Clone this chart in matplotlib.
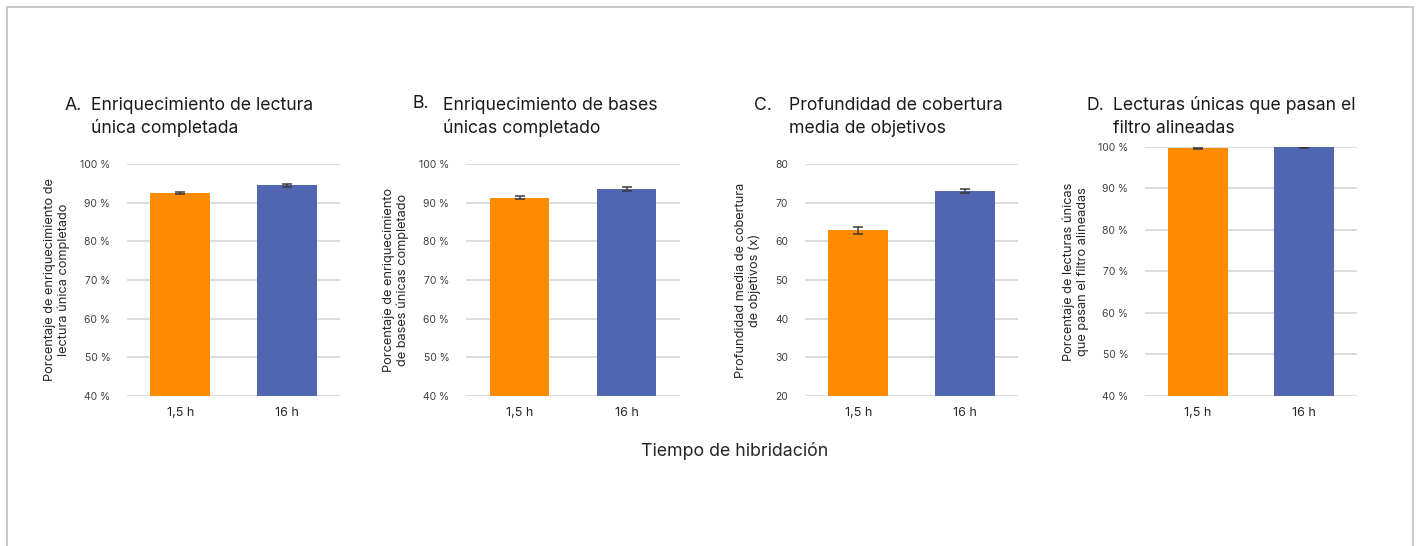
import matplotlib.pyplot as plt
from matplotlib.patches import Rectangle
from matplotlib.ticker import FuncFormatter

plt.rcParams['font.family'] = ['Inter', 'DejaVu Sans']

W, H = 1418, 546

categories = ['1,5 h', '16 h']
letters = ['A.', 'B.', 'C.', 'D.']
titles = [
    ['Enriquecimiento de lectura', 'única completada'],
    ['Enriquecimiento de bases', 'únicas completado'],
    ['Profundidad de cobertura', 'media de objetivos'],
    ['Lecturas únicas que pasan el', 'filtro alineadas'],
]
ylabels = [
    'Porcentaje de enriquecimiento de\nlectura única completado',
    'Porcentaje de enriquecimiento\nde bases únicas completado',
    'Profundidad media de cobertura\nde objetivos (x)',
    'Porcentaje de lecturas únicas\nque pasan el filtro alineadas',
]
values = [
    [92.5, 94.5],
    [91.3, 93.5],
    [62.9, 73.0],
    [99.7, 99.9],
]
errors = [
    [0.15, 0.45],
    [0.3, 0.55],
    [0.9, 0.6],
    [0.1, 0.1],
]
ylims = [(40, 100), (40, 100), (20, 80), (40, 100)]
yticks = [range(40, 101, 10), range(40, 101, 10), range(20, 81, 10), range(40, 101, 10)]
is_pct = [True, True, False, True]
xlabel = 'Tiempo de hibridación'

bar_colors = ['#FF8C00', '#5166B0']
grid_color = '#D9D9D9'
text_color = '#404040'

# axes boxes in pixels: left, right, top, bottom
boxes = [(127, 340, 164, 396), (466, 680, 164, 396),
         (805, 1018, 164, 396), (1145, 1357, 147, 396)]
title_x = [(65, 91), (413, 443), (754, 789), (1087, 1113)]
title_y = [110, 108, 110, 110]
ylabel_x = [57, 396, 748, 1076]

fig = plt.figure(figsize=(W / 100, H / 100), dpi=100)
fig.patch.set_facecolor('white')

# thin gray frame, open at the bottom
fig.add_artist(Rectangle((7 / W, -0.05), 1406 / W, 1.05 - 7 / H,
                         transform=fig.transFigure, fill=False,
                         edgecolor='#BFBFBF', linewidth=1.2))


def px(x, y):
    return x / W, 1 - y / H


for i in range(4):
    l, r, t, b = boxes[i]
    ax = fig.add_axes([l / W, 1 - b / H, (r - l) / W, (b - t) / H])
    ax.bar(range(2), values[i], width=0.56, color=bar_colors, zorder=2)
    ax.errorbar(range(2), values[i], yerr=errors[i], fmt='none',
                ecolor='#3A3A3A', elinewidth=1.1, capsize=3.5, capthick=1.1, zorder=3)
    ax.set_ylim(*ylims[i])
    ax.set_xlim(-0.5, 1.5)
    ax.set_yticks(list(yticks[i]))
    if is_pct[i]:
        ax.yaxis.set_major_formatter(FuncFormatter(lambda v, _: f'{v:.0f} %'))
    ax.set_xticks(range(2))
    ax.set_xticklabels(categories)
    ax.grid(axis='y', color=grid_color, linewidth=1.3, zorder=0)
    ax.set_axisbelow(True)
    for s in ax.spines.values():
        s.set_visible(False)
    ax.tick_params(axis='y', length=0, pad=12, labelsize=7.5, labelcolor=text_color)
    ax.tick_params(axis='x', length=0, pad=8, labelsize=9, labelcolor=text_color)
    for lbl in ax.get_xticklabels():
        lbl.set_color('#262626')

    ax.set_ylabel(ylabels[i], fontsize=9.2, color='#262626', linespacing=1.2)
    ax.yaxis.set_label_coords((ylabel_x[i] - l) / (r - l), 0.5)
    ax.yaxis.label.set_va('center')

    lx, tx = title_x[i]
    fig.text(*px(lx, title_y[i]), letters[i], fontsize=12.7, color='#1A1A1A',
             ha='left', va='baseline')
    fig.text(*px(tx, 110), titles[i][0], fontsize=12.7, color='#1A1A1A',
             ha='left', va='baseline')
    fig.text(*px(tx, 133), titles[i][1], fontsize=12.7, color='#1A1A1A',
             ha='left', va='baseline')

fig.text(*px(735, 456), xlabel, fontsize=12.8, color='#262626',
         ha='center', va='baseline')

fig.savefig('out.png', dpi=100)
